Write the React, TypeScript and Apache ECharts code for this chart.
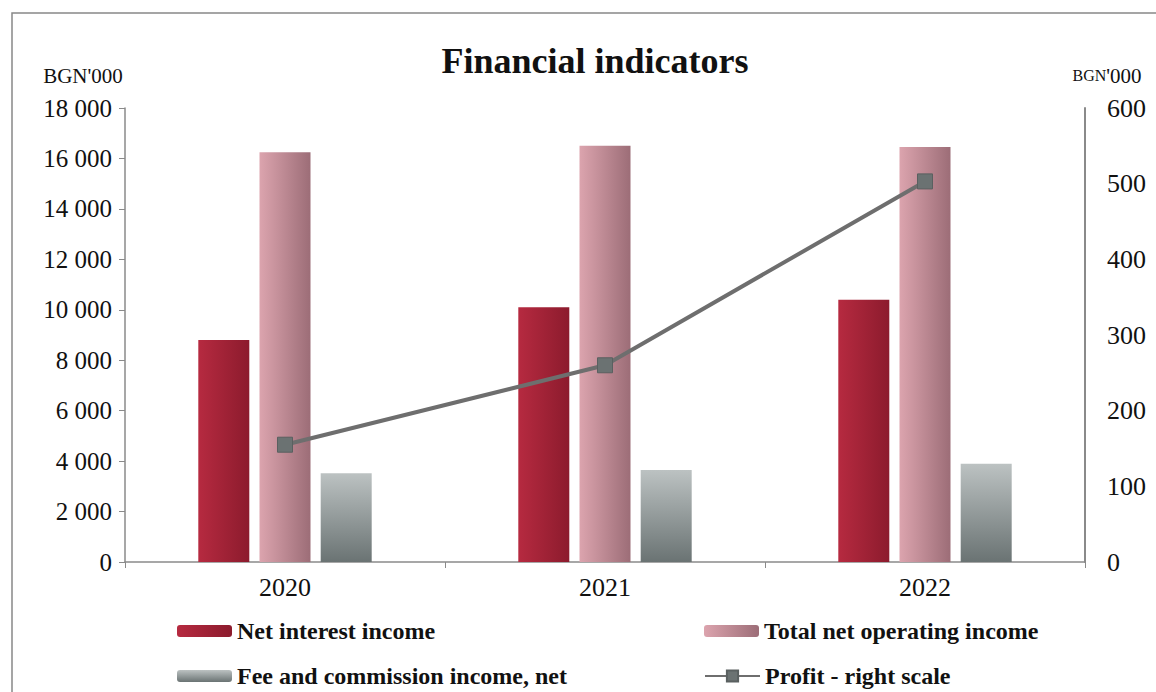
import React, { useEffect, useRef } from "react";
import * as echarts from "echarts";

const categories = ["2020", "2021", "2022"];
const netInterest = [8800, 10100, 10400];
const totalNetOperating = [16250, 16500, 16450];
const feeCommission = [3520, 3650, 3900];
const profit = [155, 260, 503];

const leftTicks = { min: 0, max: 18000, interval: 2000 };
const rightTicks = { min: 0, max: 600, interval: 100 };

const serif = "'Liberation Serif', 'Times New Roman', serif";

function fmt(v: number) {
  return String(v).replace(/\B(?=(\d{3})+(?!\d))/g, " ");
}

export default function App() {
  const ref = useRef<HTMLDivElement>(null);
  useEffect(() => {
    if (!ref.current) return;
    const chart = echarts.init(ref.current, undefined, { renderer: "svg" });
    const redGrad = new echarts.graphic.LinearGradient(0, 0, 1, 0, [
      { offset: 0, color: "#b62a40" },
      { offset: 1, color: "#8c1b2d" },
    ]);
    const pinkGrad = new echarts.graphic.LinearGradient(0, 0, 1, 0, [
      { offset: 0, color: "#dca4ae" },
      { offset: 1, color: "#9c6d77" },
    ]);
    const grayGrad = new echarts.graphic.LinearGradient(0, 0, 0, 1, [
      { offset: 0, color: "#bcc2c2" },
      { offset: 1, color: "#6a7373" },
    ]);
    const legendText = { fontFamily: serif, fontWeight: "bold" as const, fontSize: 24, color: "#111" };
    const legendBase = {
      itemWidth: 55,
      itemHeight: 12,
      itemGap: 2,
      textStyle: legendText,
      selectedMode: false,
    };
    chart.setOption({
      animation: false,
      backgroundColor: "#fff",
      title: {
        text: "Financial indicators",
        left: 590,
        top: 38,
        textAlign: "center",
        textStyle: { fontFamily: serif, fontWeight: "bold", fontSize: 36, color: "#111" },
      },
      graphic: [
        {
          type: "polyline",
          shape: { points: [[12, 692], [12, 13], [1156, 13]] },
          style: { stroke: "#888", lineWidth: 1.5, fill: "none" },
        },
      ],
      legend: [
        { ...legendBase, left: 172, top: 614, data: ["Net interest income"] },
        { ...legendBase, left: 699, top: 614, data: ["Total net operating income"] },
        { ...legendBase, left: 172, top: 659, data: ["Fee and commission income, net"] },
        { ...legendBase, left: 699, top: 659, itemHeight: 14, data: ["Profit - right scale"] },
      ],
      grid: { left: 125, right: 71, top: 108, bottom: 130, containLabel: false },
      xAxis: {
        type: "category",
        data: categories,
        axisLine: { lineStyle: { color: "#8a8a8a", width: 1.5 } },
        axisTick: { show: true, length: 6, lineStyle: { color: "#8a8a8a" } },
        axisLabel: { fontFamily: serif, fontSize: 26, color: "#111", margin: 12 },
      },
      yAxis: [
        {
          type: "value",
          ...leftTicks,
          name: "BGN'000",
          nameLocation: "end",
          nameGap: 22,
          nameTextStyle: { fontFamily: serif, fontSize: 21, color: "#111", align: "center", padding: [0, 0, 0, -84] },
          axisLine: { show: true, lineStyle: { color: "#8a8a8a", width: 1.5 } },
          axisTick: { show: true, length: 6, lineStyle: { color: "#8a8a8a" } },
          splitLine: { show: false },
          axisLabel: { fontFamily: serif, fontSize: 25, color: "#111", margin: 13, formatter: (v: number) => fmt(v) },
        },
        {
          type: "value",
          ...rightTicks,
          position: "right",
          name: "{a|BGN}{b|'000}",
          nameLocation: "end",
          nameGap: 22,
          nameTextStyle: {
            fontFamily: serif,
            color: "#111",
            align: "center",
            padding: [0, 0, 0, 44],
            rich: {
              a: { fontFamily: serif, fontSize: 16, color: "#111" },
              b: { fontFamily: serif, fontSize: 21, color: "#111" },
            },
          },
          axisLine: { show: true, lineStyle: { color: "#8a8a8a", width: 2 } },
          axisTick: { show: false },
          splitLine: { show: false },
          axisLabel: { fontFamily: serif, fontSize: 26, color: "#111", margin: 22 },
        },
      ],
      series: [
        {
          name: "Net interest income",
          type: "bar",
          data: netInterest,
          barWidth: 51,
          barGap: "20%",
          itemStyle: { color: redGrad },
        },
        {
          name: "Total net operating income",
          type: "bar",
          data: totalNetOperating,
          barWidth: 51,
          barGap: "20%",
          itemStyle: { color: pinkGrad },
        },
        {
          name: "Fee and commission income, net",
          type: "bar",
          data: feeCommission,
          barWidth: 51,
          barGap: "20%",
          itemStyle: { color: grayGrad },
        },
        {
          name: "Profit - right scale",
          type: "line",
          yAxisIndex: 1,
          data: profit,
          symbol: "rect",
          symbolSize: 15,
          lineStyle: { color: "#6e6e6e", width: 4 },
          itemStyle: { color: "#6b7272", borderColor: "#5a6060", borderWidth: 1 },
        },
      ],
    });
    return () => chart.dispose();
  }, []);
  return <div ref={ref} style={{ position: "absolute", left: 0, top: 0, width: 1156, height: 692 }} />;
}
